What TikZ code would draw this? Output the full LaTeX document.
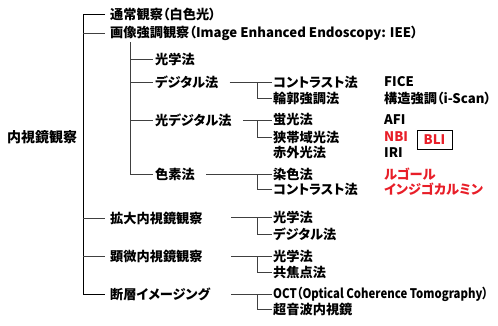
\documentclass[tikz,border=0pt]{standalone}
\usepackage{fontspec}
\usepackage{xcolor}
\setmainfont{Noto Sans CJK JP}[RawFeature=+palt]
\usepackage{tikz}
\definecolor{hilite}{RGB}{232,30,40}

\begin{document}
\begin{tikzpicture}[x=1pt,y=-1pt,
    lbl/.style={anchor=west,inner sep=1pt,font=\bfseries\fontsize{13.2}{15}\selectfont},
    redlbl/.style={lbl,text=hilite},
    link/.style={draw=black!75,line width=0.8pt}]

  \useasboundingbox (0,0) rectangle (498,325);

  \coordinate (trunk)    at (83,0);
  \coordinate (subtrunk) at (130,0);
  \coordinate (fork)     at (257,0);
  \coordinate (outlvl1)  at (231,0);

  % root and first level
  \node[lbl,font=\bfseries\fontsize{14}{16}\selectfont] (root) at (6,137) {内視鏡観察};
  \node[lbl] (obs1) at (109,14)  {通常観察（白色光）};
  \node[lbl] (obs2) at (109,33)  {画像強調観察（Image Enhanced Endoscopy: IEE）};
  \node[lbl] (obs3) at (109,218) {拡大内視鏡観察};
  \node[lbl] (obs4) at (109,256) {顕微内視鏡観察};
  \node[lbl] (obs5) at (109,294) {断層イメージング};

  % second level (IEE)
  \node[lbl] (iee1) at (154,59)  {光学法};
  \node[lbl] (iee2) at (154,82)  {デジタル法};
  \node[lbl] (iee3) at (154,120) {光デジタル法};
  \node[lbl] (iee4) at (154,174) {色素法};

  % third level
  \node[lbl] (dig1) at (272,82)  {コントラスト法};
  \node[lbl] (dig2) at (272,98)  {輪郭強調法};
  \node[lbl] (opt1) at (272,120) {蛍光法};
  \node[lbl] (opt2) at (272,137) {狭帯域光法};
  \node[lbl] (opt3) at (272,153) {赤外光法};
  \node[lbl] (dye1) at (272,174) {染色法};
  \node[lbl] (dye2) at (272,189) {コントラスト法};
  \node[lbl] (mag1) at (272,217) {光学法};
  \node[lbl] (mag2) at (272,234) {デジタル法};
  \node[lbl] (mic1) at (272,256) {光学法};
  \node[lbl] (mic2) at (272,272) {共焦点法};
  \node[lbl] (tom1) at (272,294) {\scalebox{0.86}[1]{OCT（Optical Coherence Tomography）}};
  \node[lbl] (tom2) at (272,309) {超音波内視鏡};

  % examples column
  \node[lbl] (fice) at (383,82)  {FICE};
  \node[lbl] (iscan) at (383,98) {構造強調（i-Scan）};
  \node[lbl] (afi) at (383,120)  {AFI};
  \node[redlbl] (nbi) at (383,137) {NBI};
  \node[redlbl,draw=black,line width=0.6pt,anchor=center,inner sep=0pt,
        minimum width=35,minimum height=19] (bli) at (434.5,140) {BLI};
  \node[lbl] (iri) at (383,153)  {IRI};
  \node[redlbl] (lugol) at (383,174) {ルゴール};
  \node[redlbl] (indigo) at (383,189) {インジゴカルミン};

  % main trunk
  \draw[link,draw=black] ([xshift=-4pt]obs1.west) -| (trunk |- obs5.west) -- ([xshift=-4pt]obs5.west);
  \foreach \n in {obs2,obs3,obs4}
    \draw[link] (trunk |- \n.west) -- ([xshift=-4pt]\n.west);

  % IEE branch
  \draw[link] ([yshift=-1pt]subtrunk |- obs2.south) |- ([xshift=-1pt]iee4.west);
  \foreach \n in {iee1,iee2,iee3}
    \draw[link] (subtrunk |- \n.west) -- ([xshift=-1pt]\n.west);

  % forks to third level
  \draw[link] ([xshift=10pt]iee2.east) -- (dig1.west);
  \draw[link] (fork |- dig1.west) |- (dig2.west);
  \draw[link] ([xshift=10pt]iee3.east) -- (opt1.west);
  \draw[link] (fork |- opt1.west) |- (opt2.west);
  \draw[link] ([xshift=10pt]iee4.east) -- (dye1.west);
  \draw[link] (fork |- dye1.west) |- (dye2.west);
  \foreach \p/\a/\b in {obs3/mag1/mag2,obs4/mic1/mic2,obs5/tom1/tom2}
  {
    \draw[link] (outlvl1 |- \a.west) -- (\a.west);
    \draw[link] (fork |- \a.west) |- (\b.west);
  }

\end{tikzpicture}
\end{document}
